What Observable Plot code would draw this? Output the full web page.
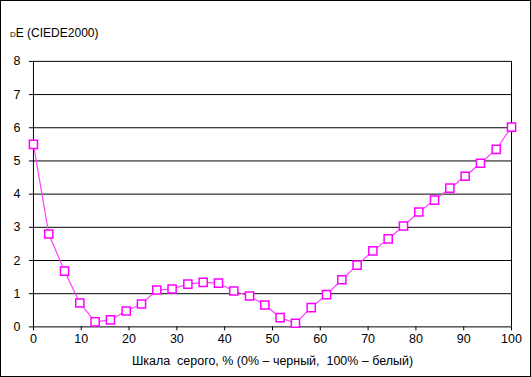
<!DOCTYPE html>
<html>
<head>
<meta charset="utf-8">
<script src="https://cdn.jsdelivr.net/npm/d3@7"></script>
<script src="https://cdn.jsdelivr.net/npm/@observablehq/plot@0.6"></script>
<style>
  html, body { margin: 0; padding: 0; background: #fff; }
  #wrap { position: relative; width: 531px; height: 377px; box-sizing: border-box; border: 1px solid #000; overflow: hidden; }
  #title { position: absolute; left: 9px; top: 25px; font: 12px "Liberation Sans", Arial, sans-serif; color: #000; }
  #title .sc { font-variant: small-caps; }
  #chart { position: absolute; left: -1px; top: -1px; }
</style>
</head>
<body>
<div id="wrap">
  <div id="chart"></div>
  <div id="title"><span class="sc">d</span>E (CIEDE2000)</div>
</div>
<script>
const grayPct = [0, 3.2, 6.5, 9.7, 12.9, 16.1, 19.4, 22.6, 25.8, 29.0, 32.3, 35.5, 38.7, 41.9, 45.2, 48.4,
                 51.6, 54.8, 58.1, 61.3, 64.5, 67.7, 71.0, 74.2, 77.4, 80.6, 83.9, 87.1, 90.3, 93.5, 96.8, 100];
const deltaE = [5.50, 2.80, 1.68, 0.72, 0.15, 0.21, 0.48, 0.69, 1.11, 1.14, 1.29, 1.34, 1.32, 1.08, 0.93, 0.66,
                0.28, 0.11, 0.58, 0.97, 1.42, 1.86, 2.29, 2.65, 3.04, 3.46, 3.82, 4.18, 4.54, 4.93, 5.35, 6.02];
const xTicks = [0, 10, 20, 30, 40, 50, 60, 70, 80, 90, 100];
const yTicks = [0, 1, 2, 3, 4, 5, 6, 7, 8];
const xLabel = "Шкала  серого, % (0% – черный,  100% – белый)";

const data = grayPct.map((x, i) => ({x, y: deltaE[i]}));

const chart = Plot.plot({
  width: 531,
  height: 377,
  marginLeft: 33,
  marginRight: 19,
  marginTop: 61,
  marginBottom: 50,
  style: {fontFamily: '"Liberation Sans", Arial, sans-serif', fontSize: "12px", color: "#000", background: "transparent"},
  x: {domain: [0, 100]},
  y: {domain: [0, 8]},
  marks: [
    Plot.ruleY(yTicks, {stroke: "#000", strokeWidth: 1, strokeOpacity: 1}),
    Plot.ruleX([0, 100], {stroke: "#000", strokeWidth: 1}),
    Plot.axisY(yTicks, {tickSize: 4, tickPadding: 9, stroke: "#000", strokeOpacity: 1, label: null, fontSize: 12.5}),
    Plot.axisX(xTicks, {tickSize: 4, tickPadding: 3, stroke: "#000", strokeOpacity: 1, label: xLabel, labelArrow: "none", labelAnchor: "center", labelOffset: 38, fontSize: 12.5}),
    Plot.line(data, {x: "x", y: "y", stroke: "#ff40ff", strokeWidth: 1.2}),
    Plot.dot(data, {x: "x", y: "y", symbol: "square", r: 4.6, fill: "#fff", stroke: "#ff00ff", strokeWidth: 1.5})
  ]
});
document.getElementById("chart").appendChild(chart);
</script>
</body>
</html>
